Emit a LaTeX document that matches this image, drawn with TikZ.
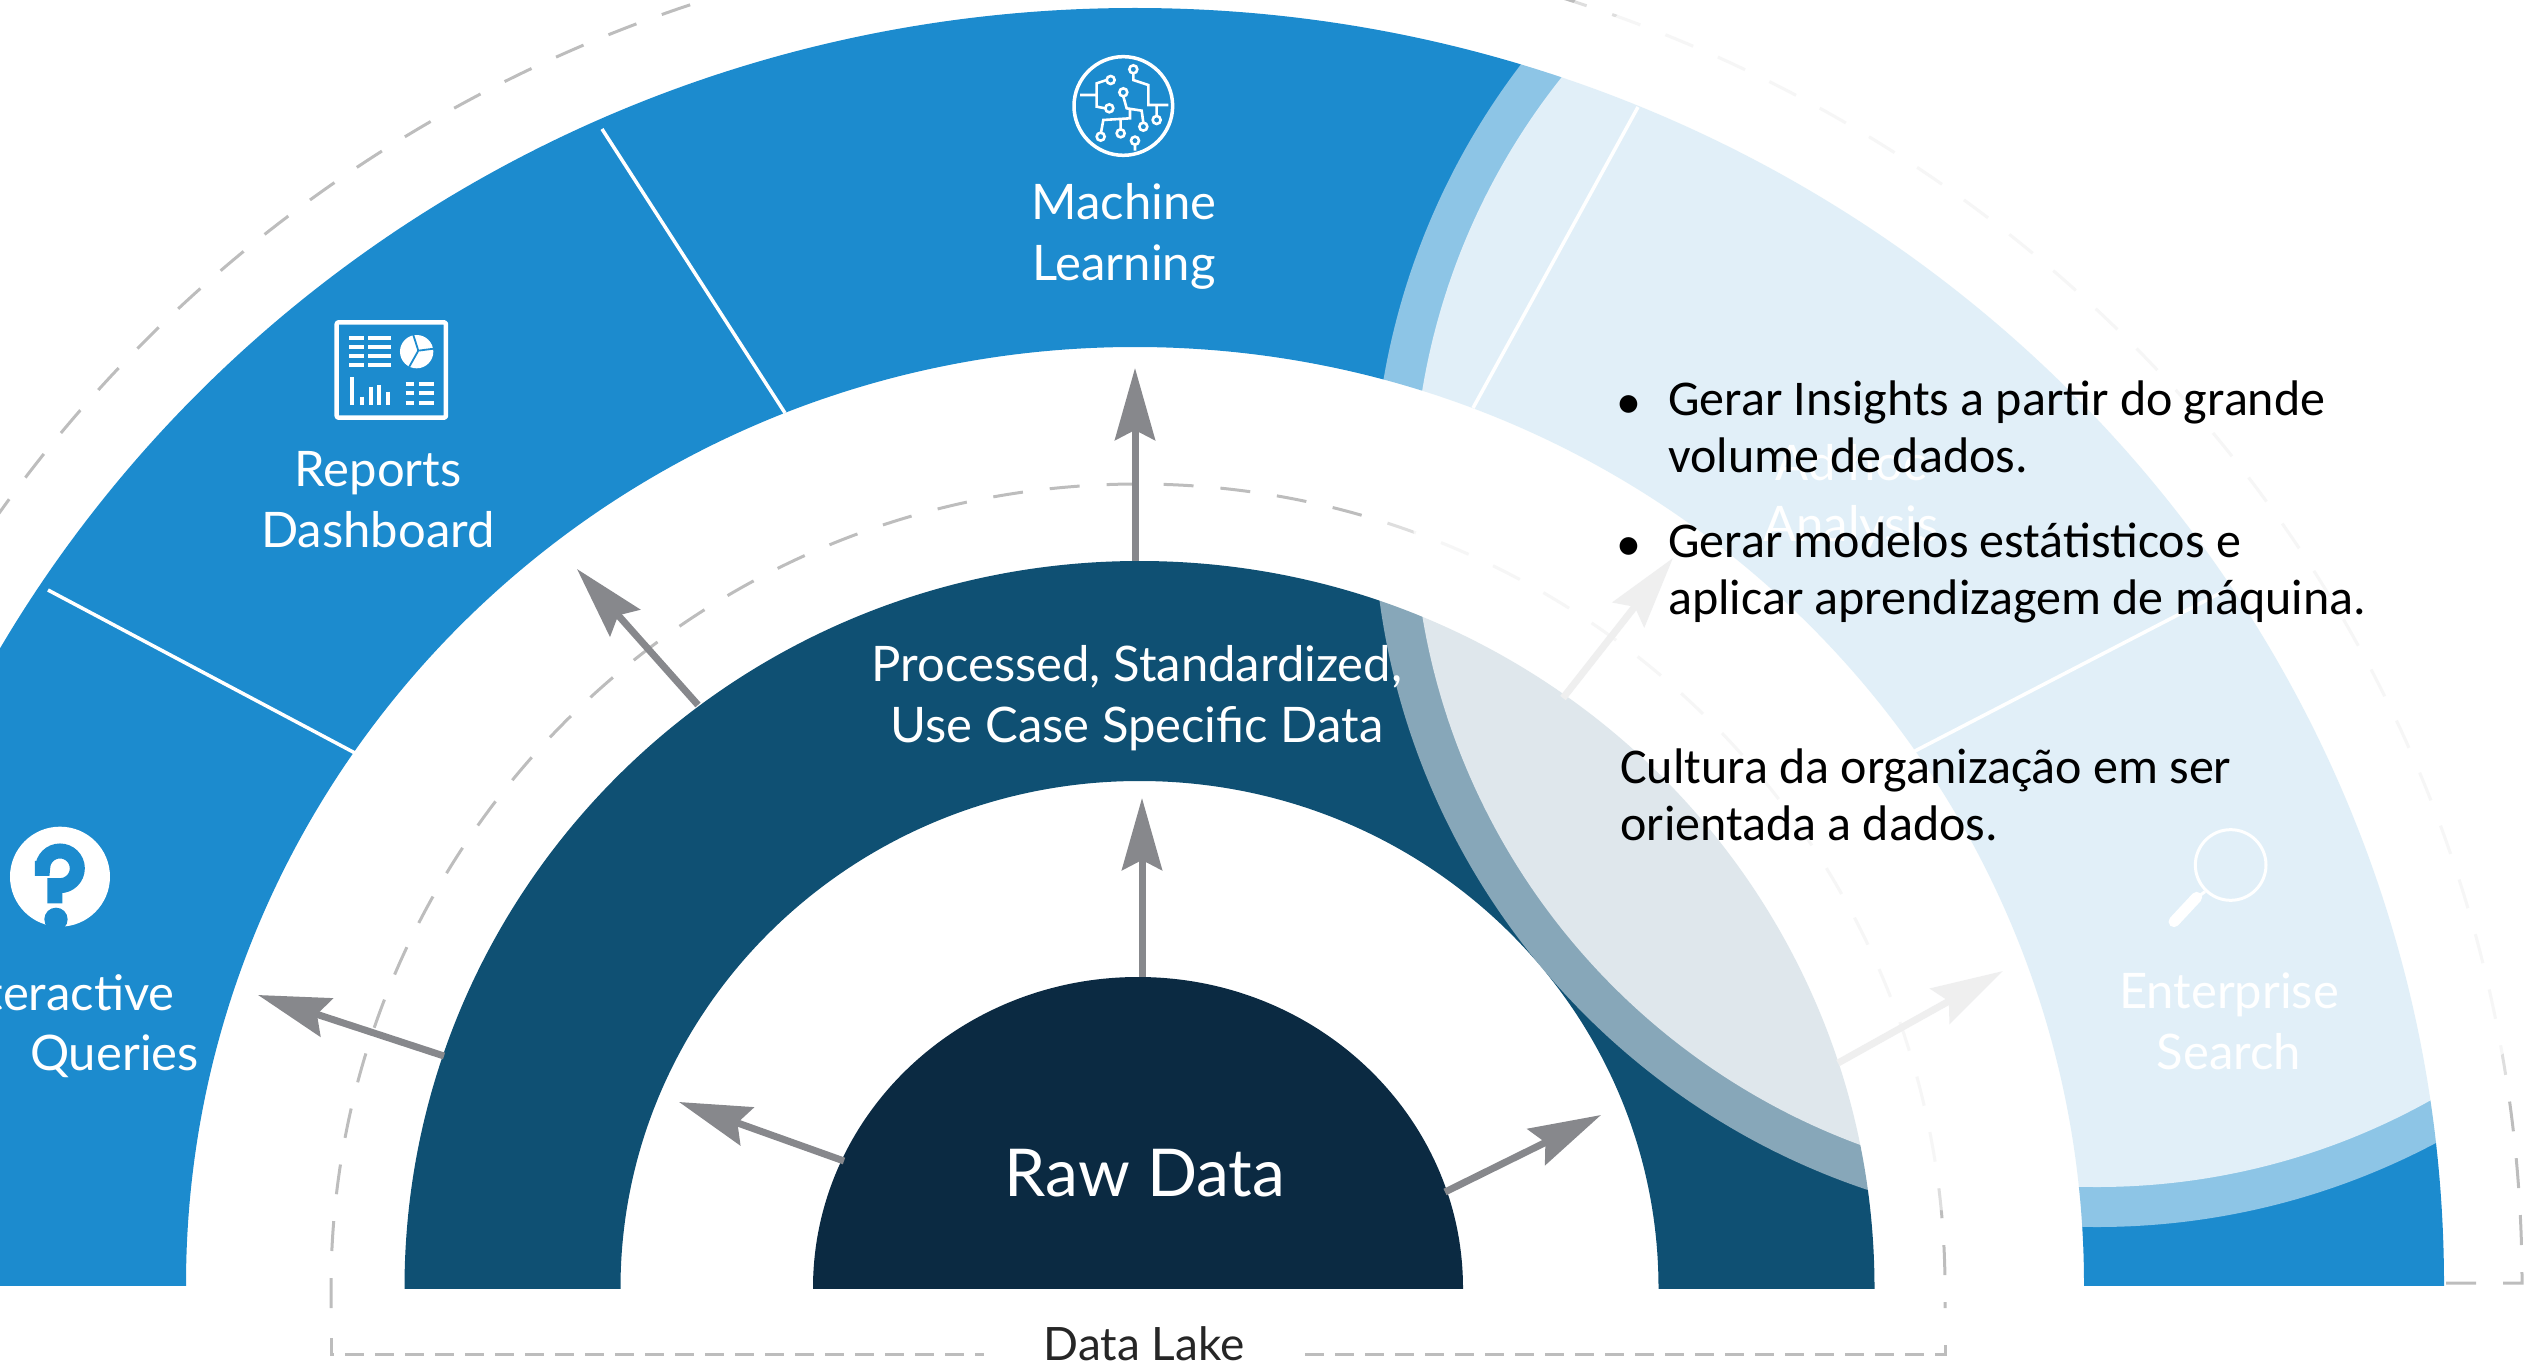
\documentclass[tikz,border=0pt]{standalone}
\usepackage{fontspec}
\setmainfont{Carlito}
\newfontfamily\labelfont{Lato}
\usetikzlibrary{arrows.meta}
\definecolor{ringouter}{HTML}{1C8BCE}
\definecolor{ringmid}{HTML}{0F5073}
\definecolor{ringraw}{HTML}{0B2A42}
\definecolor{arrowgray}{HTML}{87888C}
\definecolor{dashgray}{HTML}{BDBDBD}
\tikzset{
  flow/.style={draw=arrowgray,line width=7pt,-{Stealth[length=72pt,width=40pt,inset=10pt]}},
  divider/.style={draw=white,line width=3.5pt},
  archdash/.style={draw=dashgray,line width=3pt,dash pattern=on 30pt off 27pt},
  basedash/.style={draw=dashgray,line width=3pt,dash pattern=on 19pt off 11pt},
  lab/.style={text=white,font=\labelfont\fontsize{49}{61}\selectfont,align=center,inner sep=0pt},
  blacktext/.style={text=black,font=\fontsize{50}{57}\selectfont,align=left,inner sep=0pt,anchor=north west},
  icon/.style={draw=white,line width=3pt,line cap=round,line join=round},
  iconthick/.style={draw=white,line width=2.6pt},
}
\begin{document}
\begin{tikzpicture}[x=1pt,y=-1pt]
\useasboundingbox (0,0) rectangle (2529,1364);
% rings
\begin{scope}
  \clip (-400,-100) rectangle (2600,1285);
  \fill[ringouter,even odd rule] (1135,1285) ellipse [x radius=1309,y radius=1277] (1135,1285) ellipse [x radius=949,y radius=938];
\end{scope}
\begin{scope}
  \clip (-400,-100) rectangle (2600,1288);
  \fill[ringmid,even odd rule] (1139.5,1288) ellipse [x radius=735,y radius=727] (1139.5,1288) ellipse [x radius=519,y radius=507];
  \fill[ringraw] (1138,1288) ellipse [x radius=325,y radius=311];
\end{scope}
% ring dividers
\coordinate (d1a) at (48,590); \coordinate (d1b) at (355,753);
\coordinate (d2a) at (602,129); \coordinate (d2b) at (785,413);
\coordinate (d3a) at (1638,107); \coordinate (d3b) at (1473,408);
\coordinate (d4a) at (2226,590); \coordinate (d4b) at (1913,752);
\draw[divider] (d1a)--(d1b);
\draw[divider] (d2a)--(d2b);
\draw[divider] (d3a)--(d3b);
\draw[divider] (d4a)--(d4b);
% dashed boundaries
\draw[archdash] (331,1308)--(331,1288) arc [start angle=180,end angle=360,x radius=807,y radius=804] --(1945,1308);
\draw[basedash] (331,1338)--(331,1354)--(1945,1354)--(1945,1338);
\draw[archdash] (2446,1283)--(2522,1283) arc [start angle=0,end angle=-180,x radius=1385,y radius=1350];
% arrows
\coordinate (a1) at (1142,977); \coordinate (a1t) at (1142,798);
\coordinate (a2) at (1135,561); \coordinate (a2t) at (1135,368);
\coordinate (a3) at (698,705); \coordinate (a3t) at (577,569);
\coordinate (a4) at (444,1056); \coordinate (a4t) at (258,995);
\coordinate (a5) at (844,1161); \coordinate (a5t) at (679,1102);
\coordinate (a6) at (1445,1192); \coordinate (a6t) at (1601,1115);
\coordinate (a7) at (1563,698); \coordinate (a7t) at (1673,558);
\coordinate (a8) at (1838,1063); \coordinate (a8t) at (2003,971);
\foreach \s in {1,...,8} \draw[flow] (a\s)--(a\s t);
% machine learning icon
\begin{scope}[shift={(950,20)},x=0.3333pt,y=-0.3333pt]
  \draw[icon,line width=3.5pt] (520,258) circle [radius=148];
  \draw[iconthick] (390,225)--(440,225) (470,180)--(440,190)--(440,260)--(466,265);
  \draw[iconthick] (550,160)--(550,180)--(595,195)--(595,255)--(655,255) (620,255)--(620,288);
  \draw[iconthick] (520,229)--(530,265)--(575,272)--(580,308) (540,270)--(540,295)--(460,300)--(453,338) (512,300)--(512,328) (555,374)--(555,392);
  \foreach \p in {(482,180),(478,265),(550,148),(620,300),(520,217),(580,320),(452,350),(512,340),(555,362)}
    \draw[iconthick] \p circle [radius=12];
\end{scope}
% reports icon
\begin{scope}[shift={(250,290)},x=0.3333pt,y=-0.3333pt]
  \draw[icon,line width=4.5pt,rounded corners=2pt] (260,97) rectangle (588,383);
  \foreach \y in {143,170,198,226} \draw[draw=white,line width=3.8pt] (298,\y)--(342,\y) (355,\y)--(422,\y);
  \fill[white] (500,185) circle [radius=50];
  \draw[draw=ringouter,line width=1.8pt] (505,182)--(490,135) (505,182)--(552,176) (505,182)--(478,230);
  \foreach \x/\y in {305/262,337/320,362/290,388/285,415/305} \draw[draw=white,line width=4pt] (\x,\y)--(\x,345);
  \foreach \y in {283,310,338} \draw[draw=white,line width=3.8pt] (467,\y)--(492,\y) (507,\y)--(552,\y);
\end{scope}
% question icon
\begin{scope}[shift={(0,780)},x=0.3333pt,y=-0.3333pt]
  \fill[white] (180,290) circle [radius=150];
  \draw[draw=ringouter,line width=15pt] (105,265)--(128,265) arc [start angle=180,end angle=450,radius=52]--(165,317)--(165,370);
  \fill[ringouter] (168,418) circle [radius=35];
\end{scope}
% magnifier icon
\begin{scope}[shift={(2100,780)},x=0.3333pt,y=-0.3333pt]
  \draw[icon,line width=3pt] (392,255) circle [radius=106];
  \draw[draw=white,line width=3pt] (315,335)--(295,350);
  \draw[draw=white,line width=11pt,line cap=round] (290,352)--(222,425);
\end{scope}
% labels
\node[lab,font=\labelfont\fontsize{66}{70}\selectfont] (raw) at (1145,1173) {Raw Data};
\node[lab] (proc) at (1137,698) {Processed, Standardized,\\Use Case Specific Data};
\node[lab] (ml) at (1124,236) {Machine\\Learning};
\node[lab] (rep) at (378,500) {Reports\\Dashboard};
\node[lab,anchor=base east] (inter) at (175,1010) {Interactive};
\node[lab,anchor=base east] (quer) at (199,1070) {Queries};
\node[lab] (adhoc) at (1851,497) {Ad hoc\\Analysis};
\node[lab] (ent) at (2229,1021) {Enterprise\\Search};
% fading overlay
\fill[white,opacity=.5] (2097,503) circle [radius=724];
\fill[white,opacity=.736] (2097,503) circle [radius=684];
% data lake caption
\node[inner sep=0pt,fill=white,minimum width=320pt,minimum height=24pt,text=black!85,font=\labelfont\fontsize{46}{50}\selectfont,anchor=base] (lake) at (1144,1360) {Data Lake};
% overlaid text
\node[blacktext,anchor=center] (b1) at (1629,407) {•};
\node[blacktext] (t1) at (1668,381) {Gerar Insights a partir do grande\\volume de dados.};
\node[blacktext,anchor=center] (b2) at (1629,549) {•};
\node[blacktext] (t2) at (1668,523) {Gerar modelos estátisticos e\\aplicar aprendizagem de máquina.};
\node[blacktext] (t3) at (1620,749) {Cultura da organização em ser\\orientada a dados.};
\end{tikzpicture}
\end{document}
